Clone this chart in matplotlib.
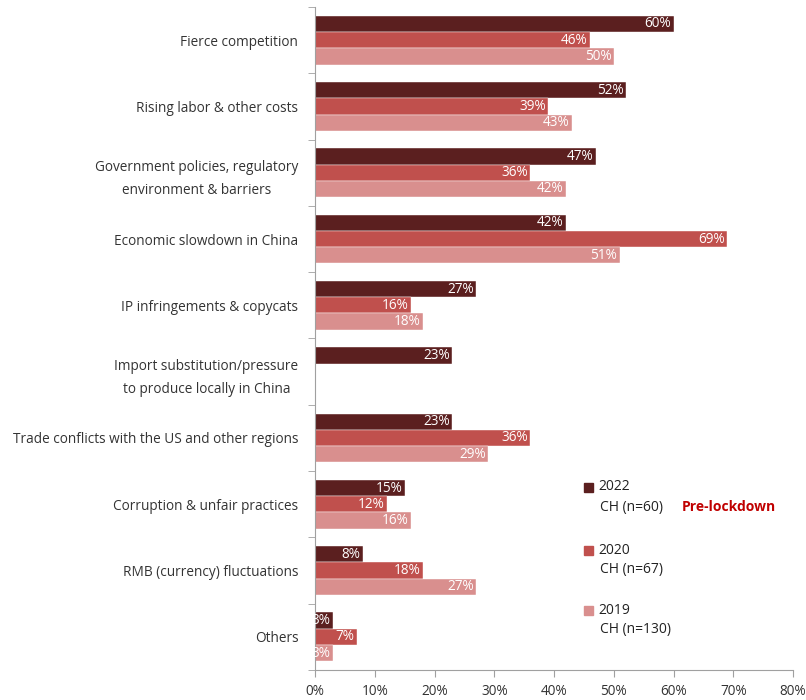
import matplotlib
matplotlib.use("Agg")
import matplotlib.pyplot as plt
import numpy as np

categories = [
    "Fierce competition",
    "Rising labor & other costs",
    "Government policies, regulatory\nenvironment & barriers",
    "Economic slowdown in China",
    "IP infringements & copycats",
    "Import substitution/pressure\nto produce locally in China",
    "Trade conflicts with the US and other regions",
    "Corruption & unfair practices",
    "RMB (currency) fluctuations",
    "Others",
]
v2022 = [60, 52, 47, 42, 27, 23, 23, 15, 8, 3]
v2020 = [46, 39, 36, 69, 16, None, 36, 12, 18, 7]
v2019 = [50, 43, 42, 51, 18, None, 29, 16, 27, 3]
series_names = ["2022", "2020", "2019"]
series_sub = ["CH (n=60)", "CH (n=67)", "CH (n=130)"]
colors = ["#5B1F1F", "#C0504D", "#D98F8E"]
xticks = [0, 10, 20, 30, 40, 50, 60, 70, 80]

plt.rcParams['font.family'] = ['Open Sans', 'DejaVu Sans']

fig = plt.figure(figsize=(8.06, 7.0), dpi=100)
ax = fig.add_axes([315/806, 1-670/700, (793-315)/806, (670-7)/700])

h = 0.245
y = np.arange(len(categories))
for k, (vals, col) in enumerate(zip([v2022, v2020, v2019], colors)):
    off = (k - 1) * h
    for i, v in enumerate(vals):
        if v is None:
            continue
        ax.barh(y[i] + off, v, height=h, color=col, edgecolor='white', linewidth=0.3)
        ax.text(v - 0.4, y[i] + off, f"{v}%", ha='right', va='center',
                color='white', fontsize=9.8)

ax.set_ylim(len(categories) - 0.5, -0.5)
ax.set_xlim(0, 80)
ax.set_xticks(xticks)
ax.set_xticklabels([f"{t}%" for t in xticks], fontsize=9.8, color='#333333')
ax.set_yticks(y)
ax.set_yticklabels(categories, fontsize=9.8, color='#333333',
                   multialignment='center', linespacing=1.75)
ax.tick_params(axis='y', length=0, pad=12)
ax.set_yticks(np.arange(-0.5, len(categories), 1), minor=True)
ax.tick_params(axis='y', which='minor', length=5, color='#A0A0A0')
ax.tick_params(axis='x', length=5, color='#A0A0A0', pad=5)

for s in ['top', 'right']:
    ax.spines[s].set_visible(False)
for s in ['left', 'bottom']:
    ax.spines[s].set_color('#A0A0A0')
    ax.spines[s].set_linewidth(0.8)

# legend
leg_y = [487, 550, 610]
for k in range(3):
    yy = leg_y[k]
    fig.patches.append(matplotlib.patches.Rectangle(
        (584/806, 1-(yy+5)/700), 9/806, 9/700, transform=fig.transFigure,
        color=colors[k], figure=fig))
    fig.text(598/806, 1-yy/700, series_names[k], fontsize=10, color='#222222', va='center')
    fig.text(600/806, 1-(yy+20)/700, series_sub[k], fontsize=10, color='#222222', va='center')
fig.text(682/806, 1-507/700, "Pre-lockdown", fontsize=10, color='#C00000',
         fontweight='bold', va='center')

fig.savefig("out.png", dpi=100)
